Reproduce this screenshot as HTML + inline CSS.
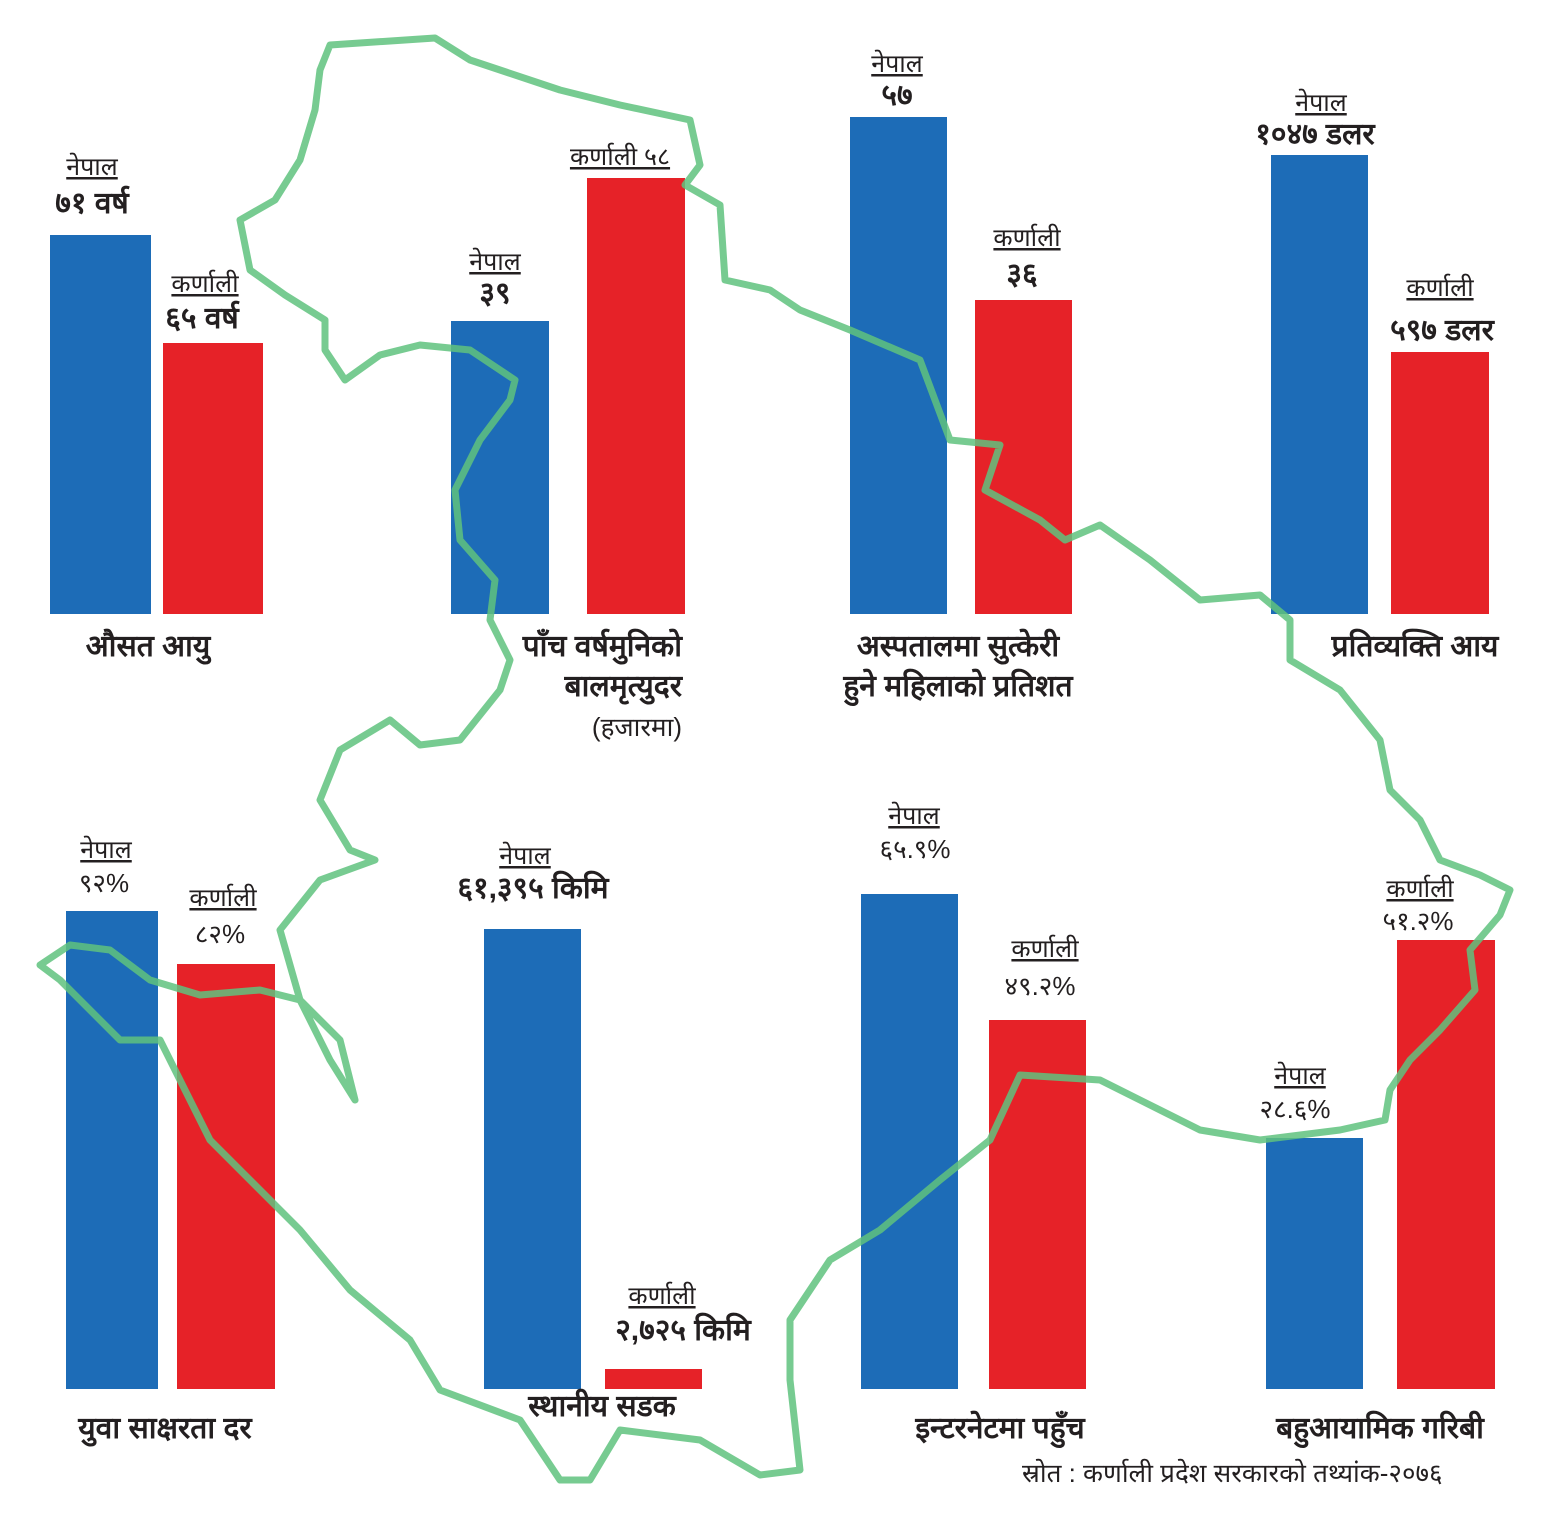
<!DOCTYPE html>
<html><head><meta charset="utf-8">
<style>
html,body{margin:0;padding:0;background:#fff;}
svg{display:block}
text{font-family:"Liberation Sans","DejaVu Sans",sans-serif;fill:#231f20}
.s{font-size:26px}
.b{font-size:30px;font-weight:bold}
.u{font-size:25px;text-decoration:underline}
</style></head>
<body>
<svg width="1550" height="1524" viewBox="0 0 1550 1524" xmlns="http://www.w3.org/2000/svg">
<rect width="1550" height="1524" fill="#fff"/>
<g fill="#1d6cb7">
<rect x="50" y="235" width="101" height="379"/>
<rect x="451" y="321" width="98" height="293"/>
<rect x="850" y="117" width="97" height="497"/>
<rect x="1271" y="155" width="97" height="459"/>
<rect x="66" y="911" width="92" height="478"/>
<rect x="484" y="929" width="97" height="460"/>
<rect x="861" y="894" width="97" height="495"/>
<rect x="1266" y="1138" width="97" height="251"/>
</g>
<g fill="#e62228">
<rect x="163" y="343" width="100" height="271"/>
<rect x="587" y="178" width="98" height="436"/>
<rect x="975" y="300" width="97" height="314"/>
<rect x="1391" y="352" width="98" height="262"/>
<rect x="177" y="964" width="98" height="425"/>
<rect x="605" y="1369" width="97" height="20"/>
<rect x="989" y="1020" width="97" height="369"/>
<rect x="1397" y="940" width="98" height="449"/>
</g>
<polyline fill="none" stroke="#5fc27e" stroke-opacity="0.85" stroke-width="7" stroke-linejoin="round" stroke-linecap="round"
points="330,45 435,38 470,60 560,90 620,105 690,120 700,165 685,185 720,205 725,280 770,290 800,310 850,330 920,360 950,440 1000,445 985,490 1040,520 1065,540 1100,525 1150,560 1200,600 1260,595 1290,620 1290,660 1340,690 1380,740 1390,790 1420,820 1440,860 1480,875 1510,890 1500,915 1470,950 1475,990 1440,1030 1410,1060 1390,1090 1385,1120 1340,1130 1260,1140 1200,1130 1160,1110 1100,1080 1020,1075 990,1140 940,1180 880,1230 830,1260 790,1320 790,1380 800,1470 760,1475 700,1440 620,1430 590,1480 560,1480 520,1420 440,1390 410,1340 350,1290 300,1230 250,1180 210,1140 180,1080 160,1040 120,1040 60,980 40,965 70,945 110,950 150,980 200,995 260,990 300,1000 330,1060 355,1100 340,1040 300,1000 280,930 320,880 375,860 350,850 320,800 340,750 390,720 420,745 460,740 500,690 510,660 490,620 495,580 460,540 455,490 480,440 510,400 515,380 470,350 420,345 380,355 345,380 325,350 325,320 285,295 250,270 240,220 275,200 300,160 315,110 320,70 330,45"/>
<text x="92" y="175" class="u" text-anchor="middle">नेपाल</text>
<text x="92" y="213" class="b" text-anchor="middle">७१ वर्ष</text>
<text x="205" y="292" class="u" text-anchor="middle">कर्णाली</text>
<text x="202" y="328" class="b" text-anchor="middle">६५ वर्ष</text>
<text x="148" y="656" class="b" text-anchor="middle">औसत आयु</text>

<text x="495" y="270" class="u" text-anchor="middle">नेपाल</text>
<text x="495" y="303" class="b" text-anchor="middle">३९</text>
<text x="620" y="165" class="u" text-anchor="middle">कर्णाली ५८</text>
<text x="682" y="656" class="b" text-anchor="end">पाँच वर्षमुनिको</text>
<text x="682" y="696" class="b" text-anchor="end">बालमृत्युदर</text>
<text x="682" y="736" class="s" text-anchor="end">(हजारमा)</text>

<text x="897" y="72" class="u" text-anchor="middle">नेपाल</text>
<text x="897" y="105" class="b" text-anchor="middle">५७</text>
<text x="1027" y="246" class="u" text-anchor="middle">कर्णाली</text>
<text x="1022" y="284" class="b" text-anchor="middle">३६</text>
<text x="958" y="656" class="b" text-anchor="middle">अस्पतालमा सुत्केरी</text>
<text x="958" y="696" class="b" text-anchor="middle">हुने महिलाको प्रतिशत</text>

<text x="1321" y="111" class="u" text-anchor="middle">नेपाल</text>
<text x="1315" y="144" class="b" text-anchor="middle">१०४७ डलर</text>
<text x="1440" y="296" class="u" text-anchor="middle">कर्णाली</text>
<text x="1442" y="340" class="b" text-anchor="middle">५९७ डलर</text>
<text x="1415" y="656" class="b" text-anchor="middle">प्रतिव्यक्ति आय</text>

<text x="106" y="858" class="u" text-anchor="middle">नेपाल</text>
<text x="104" y="892" class="s" text-anchor="middle">९२%</text>
<text x="223" y="906" class="u" text-anchor="middle">कर्णाली</text>
<text x="220" y="943" class="s" text-anchor="middle">८२%</text>
<text x="165" y="1438" class="b" text-anchor="middle">युवा साक्षरता दर</text>

<text x="525" y="864" class="u" text-anchor="middle">नेपाल</text>
<text x="533" y="898" class="b" text-anchor="middle">६१,३९५ किमि</text>
<text x="662" y="1304" class="u" text-anchor="middle">कर्णाली</text>
<text x="683" y="1340" class="b" text-anchor="middle">२,७२५ किमि</text>
<text x="602" y="1416" class="b" text-anchor="middle">स्थानीय सडक</text>

<text x="914" y="824" class="u" text-anchor="middle">नेपाल</text>
<text x="915" y="858" class="s" text-anchor="middle">६५.९%</text>
<text x="1045" y="957" class="u" text-anchor="middle">कर्णाली</text>
<text x="1040" y="995" class="s" text-anchor="middle">४९.२%</text>
<text x="1000" y="1438" class="b" text-anchor="middle">इन्टरनेटमा पहुँच</text>

<text x="1300" y="1084" class="u" text-anchor="middle">नेपाल</text>
<text x="1295" y="1118" class="s" text-anchor="middle">२८.६%</text>
<text x="1420" y="897" class="u" text-anchor="middle">कर्णाली</text>
<text x="1418" y="930" class="s" text-anchor="middle">५१.२%</text>
<text x="1380" y="1438" class="b" text-anchor="middle">बहुआयामिक गरिबी</text>

<text x="1022" y="1482" class="s">स्रोत : कर्णाली प्रदेश सरकारको तथ्यांक-२०७६</text>
</svg>
</body></html>
